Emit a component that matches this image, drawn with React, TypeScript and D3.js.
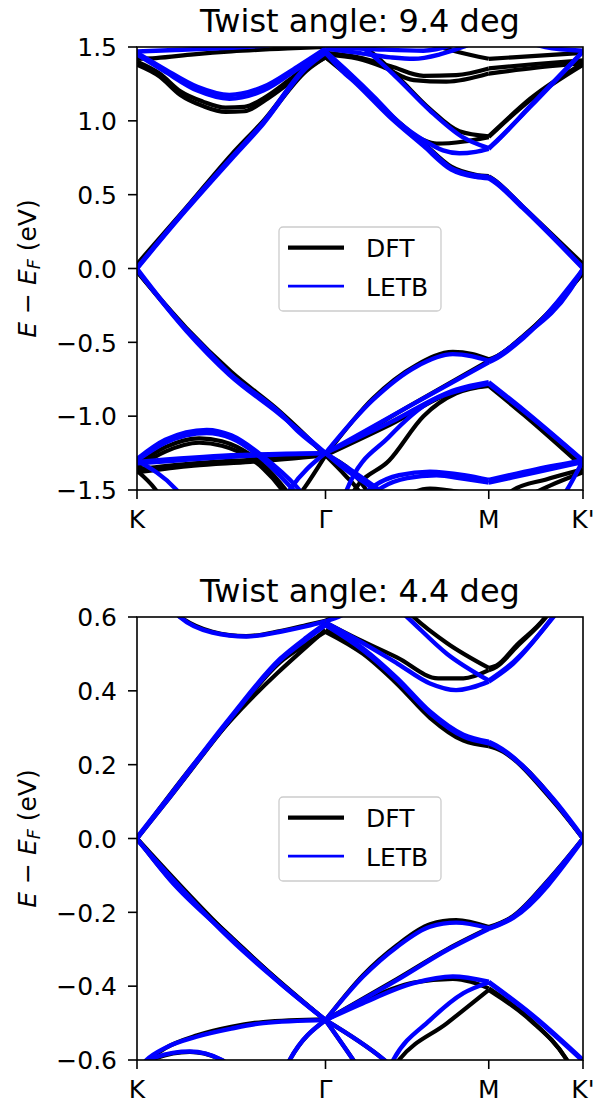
import React from 'react';
import * as d3 from 'd3';

type Pt = [number, number];

// Path through the moiré Brillouin zone: K -> Γ -> M -> K'
const kLabels = ['K', 'Γ', 'M', "K'"];
const kNodes = [0, 1, 2, 3];
// relative lengths of the K–Γ, Γ–M and M–K' legs of a hexagonal zone
const legLengths = [1 / Math.sqrt(3), 0.5, 0.5 / Math.sqrt(3)];

const seriesNames = ['DFT', 'LETB'];
const seriesColors = ['#000000', '#0000ff'];

const titles = ['Twist angle: 9.4 deg', 'Twist angle: 4.4 deg'];
const yDomain94: Pt = [-1.5, 1.5];
const yDomain44: Pt = [-0.6, 0.6];
const yTicks94 = [-1.5, -1.0, -0.5, 0.0, 0.5, 1.0, 1.5];
const yTicks44 = [-0.6, -0.4, -0.2, 0.0, 0.2, 0.4, 0.6];

// Bands as [path coordinate, E - E_F (eV)]; path coordinate 0=K, 1=Γ, 2=M, 3=K'
const dft94: Pt[][] = [
  [[0, 0.03], [0.26, 0.41], [0.5, 0.77], [0.67, 1.0], [0.9, 1.35], [1, 1.43], [1.1, 1.34], [1.19, 1.26], [1.39, 1.05], [1.6, 0.85], [1.77, 0.69], [1.92, 0.635], [2, 0.625], [2.05, 0.605], [2.36, 0.42], [3, 0.03]],
  [[0, 0.02], [0.26, 0.4], [0.5, 0.76], [0.67, 0.99], [0.9, 1.34], [1, 1.43], [1.15, 1.31], [1.3, 1.15], [1.45, 0.98], [1.6, 0.87], [1.68, 0.845], [1.85, 0.86], [2, 0.89], [2.1, 0.95], [2.44, 1.14], [3, 1.38]],
  [[1.2, 1.52], [1.29, 1.457], [1.45, 1.29], [1.64, 1.08], [1.82, 0.93], [2, 0.895], [2.1, 0.955], [2.44, 1.15], [3, 1.39]],
  [[0, 1.38], [0.12, 1.3], [0.23, 1.175], [0.35, 1.1], [0.47, 1.06], [0.57, 1.065], [0.68, 1.14], [0.8, 1.25], [0.9, 1.35], [1, 1.45], [1.2, 1.42], [1.35, 1.366], [1.54, 1.276], [1.74, 1.265], [2, 1.32], [2.5, 1.36], [3, 1.39]],
  [[0, 1.4], [0.12, 1.32], [0.23, 1.2], [0.35, 1.13], [0.47, 1.09], [0.57, 1.095], [0.68, 1.16], [0.8, 1.27], [0.9, 1.37], [1, 1.46], [1.2, 1.43], [1.4, 1.37], [1.6, 1.305], [1.8, 1.31], [2, 1.355], [2.5, 1.385], [3, 1.41]],
  [[1.6, 1.53], [1.8, 1.47], [2, 1.42], [2.5, 1.44], [3, 1.46]],
  [[0, 1.42], [0.1, 1.425], [0.3, 1.45], [0.5, 1.47], [0.8, 1.49], [1, 1.5]],
  [[0, -0.02], [0.26, -0.4], [0.5, -0.7], [0.76, -0.97], [0.87, -1.1], [1, -1.265], [1.29, -0.88], [1.555, -0.655], [1.78, -0.565], [1.9, -0.58], [2, -0.615], [2.05, -0.605], [2.37, -0.455], [2.86, -0.14], [3, -0.03]],
  [[0, -0.02], [0.26, -0.41], [0.5, -0.71], [0.76, -0.98], [1, -1.265], [1.5, -0.94], [2, -0.625], [2.05, -0.61], [2.37, -0.46], [3, -0.03]],
  [[1, -1.265], [1.4, -1.055], [1.8, -0.83], [2, -0.79], [2.37, -0.98], [3, -1.33]],
  [[1.1, -1.65], [1.19, -1.48], [1.39, -1.3], [1.6, -1.0], [1.8, -0.845], [2, -0.795], [2.37, -0.99], [3, -1.345]],
  [[0, -1.33], [0.15, -1.21], [0.33, -1.15], [0.45, -1.17], [0.6, -1.26], [0.67, -1.33], [0.79, -1.5], [0.85, -1.6]],
  [[0, -1.35], [0.15, -1.24], [0.33, -1.18], [0.45, -1.2], [0.6, -1.285], [0.67, -1.355], [0.77, -1.5], [0.82, -1.6]],
  [[0, -1.36], [0.3, -1.32], [0.6, -1.295], [1, -1.265], [1.17, -1.385], [1.25, -1.5], [1.3, -1.6]],
  [[0, -1.38], [0.3, -1.335], [0.6, -1.31], [1, -1.265], [1.12, -1.4], [1.2, -1.5], [1.25, -1.6]],
  [[0, -1.37], [0.1, -1.5], [0.15, -1.6]],
  [[0.82, -1.6], [0.88, -1.5], [1, -1.265]],
  [[1.45, -1.56], [1.64, -1.49], [1.85, -1.52], [2, -1.56]],
  [[2.15, -1.56], [2.26, -1.5], [2.6, -1.43], [3, -1.36]],
  [[2.35, -1.56], [2.65, -1.47], [3, -1.38]],
];

const letb94: Pt[][] = [
  [[0, 0], [0.26, 0.395], [0.5, 0.74], [0.67, 0.98], [0.9, 1.36], [1, 1.46], [1.1, 1.34], [1.19, 1.25], [1.39, 1.03], [1.6, 0.83], [1.77, 0.67], [1.92, 0.62], [2, 0.61], [2.05, 0.59], [2.36, 0.41], [3, 0]],
  [[0, 0.005], [0.26, 0.405], [0.5, 0.75], [0.67, 0.99], [0.9, 1.37], [1, 1.47], [1.1, 1.355], [1.19, 1.265], [1.39, 1.045], [1.6, 0.845], [1.77, 0.68], [1.92, 0.63], [2, 0.62], [2.05, 0.6], [2.36, 0.42], [3, 0.005]],
  [[1, 1.47], [1.15, 1.32], [1.3, 1.16], [1.45, 0.99], [1.6, 0.87], [1.72, 0.8], [1.82, 0.78], [1.92, 0.79], [2, 0.81], [2.1, 0.87], [2.44, 1.1], [3, 1.47]],
  [[1.2, 1.52], [1.27, 1.46], [1.43, 1.3], [1.64, 1.07], [1.84, 0.89], [2, 0.815], [2.1, 0.875], [2.44, 1.095], [3, 1.47]],
  [[0, 1.46], [0.14, 1.355], [0.32, 1.23], [0.49, 1.175], [0.67, 1.23], [0.85, 1.366], [1, 1.49]],
  [[0, 1.45], [0.14, 1.34], [0.32, 1.205], [0.49, 1.15], [0.67, 1.205], [0.85, 1.35], [1, 1.48]],
  [[1, 1.49], [1.2, 1.46], [1.4, 1.43], [1.54, 1.42], [1.7, 1.45], [1.84, 1.5], [1.95, 1.55]],
  [[1, 1.5], [1.3, 1.485], [1.6, 1.475], [1.8, 1.52]],
  [[2.3, 1.56], [2.6, 1.5], [3, 1.475]],
  [[0, 1.47], [0.2, 1.48], [0.5, 1.495], [0.7, 1.51]],
  [[0, 0], [0.26, -0.41], [0.33, -0.5], [0.49, -0.71], [0.76, -0.98], [0.86, -1.11], [1, -1.25], [1.29, -0.89], [1.555, -0.665], [1.78, -0.58], [1.9, -0.595], [2, -0.625], [2.05, -0.61], [2.37, -0.46], [2.86, -0.15], [3, 0]],
  [[0, -0.01], [0.26, -0.42], [0.49, -0.72], [0.76, -0.99], [1, -1.25], [1.5, -0.94], [2, -0.635], [2.05, -0.62], [2.37, -0.47], [3, -0.005]],
  [[1, -1.25], [1.4, -1.04], [1.8, -0.82], [2, -0.77], [2.37, -0.958], [3, -1.3]],
  [[1.1, -1.62], [1.13, -1.5], [1.39, -1.14], [1.66, -0.89], [1.84, -0.82], [2, -0.78], [2.37, -0.965], [3, -1.305]],
  [[0, -1.29], [0.15, -1.16], [0.37, -1.093], [0.5, -1.13], [0.67, -1.274], [0.846, -1.477], [0.9, -1.56]],
  [[0, -1.3], [0.15, -1.18], [0.37, -1.115], [0.5, -1.15], [0.67, -1.295], [0.83, -1.5], [0.88, -1.57]],
  [[0, -1.31], [0.5, -1.265], [1, -1.25], [1.15, -1.36], [1.33, -1.5], [1.4, -1.56]],
  [[0, -1.32], [0.5, -1.275], [1, -1.25], [1.12, -1.36], [1.3, -1.5], [1.36, -1.56]],
  [[0, -1.3], [0.21, -1.5], [0.25, -1.56]],
  [[0.78, -1.56], [0.81, -1.5], [1, -1.25]],
  [[1.2, -1.56], [1.3, -1.47], [1.45, -1.4], [1.64, -1.376], [1.85, -1.4], [2, -1.432], [2.5, -1.36], [3, -1.3]],
  [[1.25, -1.56], [1.35, -1.48], [1.5, -1.42], [1.68, -1.4], [1.85, -1.425], [2, -1.45], [2.5, -1.38], [3, -1.31]],
  [[2.75, -1.58], [2.83, -1.5], [3, -1.3]],
];

const dft44: Pt[][] = [
  [[0, 0], [0.175, 0.112], [0.49, 0.318], [0.76, 0.478], [0.9, 0.528], [1, 0.56], [1.23, 0.5], [1.44, 0.418], [1.64, 0.327], [1.845, 0.265], [2, 0.25], [2.08, 0.244], [2.685, 0.1], [3, 0]],
  [[0, 0], [0.49, 0.316], [1, 0.565], [1.23, 0.505], [1.44, 0.425], [1.64, 0.335], [1.845, 0.27], [2, 0.255], [2.08, 0.247], [3, 0]],
  [[0.18, 0.62], [0.23, 0.6], [0.4, 0.56], [0.58, 0.548], [0.76, 0.562], [0.9, 0.578], [1, 0.59], [1.1, 0.61], [1.2, 0.63]],
  [[1, 0.585], [1.2, 0.54], [1.44, 0.49], [1.69, 0.434], [1.845, 0.434], [2, 0.456], [2.08, 0.465], [2.3, 0.52], [2.61, 0.6], [2.7, 0.63]],
  [[1.45, 0.64], [1.54, 0.6], [1.745, 0.529], [2, 0.462], [2.08, 0.468], [2.3, 0.525], [2.6, 0.6], [2.68, 0.63]],
  [[0, 0], [0.175, -0.11], [0.49, -0.262], [0.76, -0.39], [1, -0.492], [1.23, -0.37], [1.44, -0.288], [1.64, -0.232], [1.8, -0.221], [2, -0.24], [2.26, -0.21], [2.64, -0.11], [3, 0]],
  [[0, 0], [0.49, -0.264], [1, -0.492], [1.44, -0.38], [1.745, -0.3], [2, -0.243], [2.26, -0.212], [3, 0]],
  [[1, -0.492], [1.23, -0.44], [1.54, -0.39], [1.78, -0.38], [2, -0.406], [2.44, -0.49], [2.83, -0.6], [2.9, -0.63]],
  [[1.4, -0.63], [1.45, -0.6], [1.745, -0.5], [2, -0.41], [2.44, -0.492], [2.83, -0.6], [2.9, -0.63]],
  [[0, -0.63], [0.05, -0.605], [0.15, -0.568], [0.32, -0.533], [0.5, -0.51], [0.67, -0.497], [1, -0.49]],
  [[0, -0.63], [0.1, -0.595], [0.28, -0.578], [0.45, -0.6], [0.5, -0.62]],
  [[0.78, -0.63], [0.81, -0.6], [1, -0.492]],
  [[1, -0.492], [1.17, -0.6], [1.2, -0.62]],
  [[1, -0.492], [1.36, -0.6], [1.4, -0.615]],
];

const letb44: Pt[][] = [
  [[0, 0], [0.175, 0.113], [0.49, 0.321], [0.76, 0.483], [0.9, 0.54], [1, 0.578], [1.23, 0.51], [1.44, 0.429], [1.64, 0.339], [1.845, 0.276], [2, 0.258], [2.08, 0.249], [2.685, 0.104], [3, 0]],
  [[0, 0.003], [0.175, 0.117], [0.49, 0.325], [0.76, 0.487], [0.9, 0.545], [1, 0.582], [1.23, 0.515], [1.44, 0.434], [1.64, 0.344], [1.845, 0.281], [2, 0.262], [2.08, 0.252], [2.685, 0.107], [3, 0.003]],
  [[0.17, 0.63], [0.228, 0.6], [0.4, 0.558], [0.58, 0.547], [0.76, 0.56], [0.9, 0.575], [1, 0.588], [1.1, 0.605], [1.2, 0.63]],
  [[1, 0.585], [1.23, 0.529], [1.44, 0.474], [1.64, 0.42], [1.8, 0.402], [2, 0.425], [2.26, 0.474], [2.685, 0.6], [2.75, 0.62]],
  [[1.4, 0.64], [1.5, 0.6], [1.745, 0.5], [2, 0.428], [2.26, 0.478], [2.685, 0.602], [2.75, 0.625]],
  [[0, 0], [0.175, -0.112], [0.49, -0.266], [0.76, -0.392], [1, -0.492], [1.23, -0.374], [1.44, -0.293], [1.64, -0.239], [1.8, -0.228], [2, -0.243], [2.26, -0.212], [2.64, -0.112], [3, 0]],
  [[0, -0.003], [0.49, -0.27], [1, -0.492], [1.44, -0.383], [1.745, -0.302], [2, -0.245], [2.26, -0.215], [3, -0.003]],
  [[1, -0.492], [1.23, -0.446], [1.54, -0.392], [1.78, -0.374], [2, -0.388], [2.44, -0.473], [3, -0.6]],
  [[1.38, -0.63], [1.415, -0.6], [1.64, -0.492], [1.845, -0.419], [2, -0.39], [2.44, -0.476], [3, -0.603]],
  [[0, -0.63], [0.05, -0.6], [0.15, -0.567], [0.316, -0.537], [0.5, -0.515], [0.67, -0.5], [1, -0.492]],
  [[0, -0.635], [0.1, -0.592], [0.28, -0.577], [0.45, -0.6], [0.5, -0.62]],
  [[0.78, -0.63], [0.81, -0.6], [1, -0.492]],
  [[1, -0.492], [1.17, -0.6], [1.2, -0.62]],
  [[1, -0.492], [1.36, -0.6], [1.4, -0.615]],
];

// ---- layout ----
const W = 597;
const H = 1103;
const plotLeft = 137;
const plotRight = 583;
const plotH = 443;
const panelTops = [47, 617];
const FONT = "'DejaVu Sans', 'Noto Sans', sans-serif";

const bandWidths = [4.2, 4.4];
const legendWidths = [4.2, 2.8];

const legSum = legLengths.reduce((a, b) => a + b, 0);
const nodePx = kNodes.map((_, i) =>
  plotLeft + ((plotRight - plotLeft) * legLengths.slice(0, i).reduce((a, b) => a + b, 0)) / legSum
);

// split a band at the high-symmetry points so kinks there stay sharp
function pieces(band: Pt[]): Pt[][] {
  return [0, 1, 2]
    .map((s) => band.filter((p) => p[0] >= s && p[0] <= s + 1))
    .filter((p) => p.length >= 2);
}

interface PanelProps {
  idx: number;
  top: number;
  title: string;
  domain: Pt;
  ticks: number[];
  dft: Pt[][];
  letb: Pt[][];
}

function Panel({ idx, top, title, domain, ticks, dft, letb }: PanelProps) {
  const x = d3.scaleLinear().domain(kNodes).range(nodePx);
  const y = d3.scaleLinear().domain(domain).range([top + plotH, top]);
  const line = d3
    .line<Pt>()
    .x((d) => x(d[0]))
    .y((d) => y(d[1]))
    .curve(d3.curveMonotoneX);
  const fmt = d3.format('.1f');
  const clipId = `plot-clip-${idx}`;
  const bottom = top + plotH;
  const midY = top + plotH / 2;
  const lgX = 279;
  const lgY = top + 180;

  return (
    <g>
      <defs>
        <clipPath id={clipId}>
          <rect x={plotLeft} y={top} width={plotRight - plotLeft} height={plotH} />
        </clipPath>
      </defs>
      <g clipPath={`url(#${clipId})`} fill="none" strokeLinejoin="round" strokeLinecap="butt">
        {[dft, letb].map((bands, si) =>
          bands.map((band, bi) =>
            pieces(band).map((pc, pi) => (
              <path
                key={`${si}-${bi}-${pi}`}
                d={line(pc) || ''}
                stroke={seriesColors[si]}
                strokeWidth={bandWidths[si]}
              />
            ))
          )
        )}
      </g>
      {/* frame */}
      <rect
        x={plotLeft}
        y={top}
        width={plotRight - plotLeft}
        height={plotH}
        fill="none"
        stroke="#000"
        strokeWidth={1.6}
      />
      {/* y axis */}
      {ticks.map((t) => (
        <g key={`yt-${t}`}>
          <line x1={plotLeft - 9} x2={plotLeft} y1={y(t)} y2={y(t)} stroke="#000" strokeWidth={1.6} />
          <text x={plotLeft - 20} y={y(t) + 9.2} textAnchor="end" fontSize={25} fontFamily={FONT} fill="#000">
            {fmt(t)}
          </text>
        </g>
      ))}
      {/* x axis */}
      {kNodes.map((k, i) => (
        <g key={`xt-${k}`}>
          <line x1={x(k)} x2={x(k)} y1={bottom} y2={bottom + 9} stroke="#000" strokeWidth={1.6} />
          <text x={x(k)} y={bottom + 37.5} textAnchor="middle" fontSize={25} fontFamily={FONT} fill="#000">
            {kLabels[i]}
          </text>
        </g>
      ))}
      {/* y label */}
      <text
        transform={`translate(36, ${midY}) rotate(-90)`}
        textAnchor="middle"
        fontSize={25}
        fontFamily={FONT}
        fill="#000"
      >
        <tspan fontStyle="italic">E</tspan>
        <tspan> − </tspan>
        <tspan fontStyle="italic">E</tspan>
        <tspan fontStyle="italic" fontSize={17.5} dy={4}>F</tspan>
        <tspan dy={-4}> (eV)</tspan>
      </text>
      {/* title */}
      <text
        x={(plotLeft + plotRight) / 2}
        y={top - 15.3}
        textAnchor="middle"
        fontSize={32}
        fontFamily={FONT}
        fill="#000"
      >
        {title}
      </text>
      {/* legend */}
      <rect
        x={lgX}
        y={lgY}
        width={162}
        height={84}
        rx={4}
        fill="#fff"
        fillOpacity={0.8}
        stroke="#cccccc"
        strokeWidth={1.3}
      />
      {seriesNames.map((name, i) => (
        <g key={name}>
          <line
            x1={lgX + 9}
            x2={lgX + 65}
            y1={lgY + 20.7 + i * 38.5}
            y2={lgY + 20.7 + i * 38.5}
            stroke={seriesColors[i]}
            strokeWidth={legendWidths[i]}
          />
          <text x={lgX + 87} y={lgY + 29.8 + i * 39.6} fontSize={25} fontFamily={FONT} fill="#000">
            {name}
          </text>
        </g>
      ))}
    </g>
  );
}

export default function App() {
  const panels = [
    { title: titles[0], domain: yDomain94, ticks: yTicks94, dft: dft94, letb: letb94 },
    { title: titles[1], domain: yDomain44, ticks: yTicks44, dft: dft44, letb: letb44 },
  ];
  return (
    <svg
      width={W}
      height={H}
      viewBox={`0 0 ${W} ${H}`}
      style={{ position: 'absolute', left: 0, top: 0, background: '#fff' }}
    >
      <rect width={W} height={H} fill="#fff" />
      {panels.map((p, i) => (
        <Panel key={i} idx={i} top={panelTops[i]} {...p} />
      ))}
    </svg>
  );
}
